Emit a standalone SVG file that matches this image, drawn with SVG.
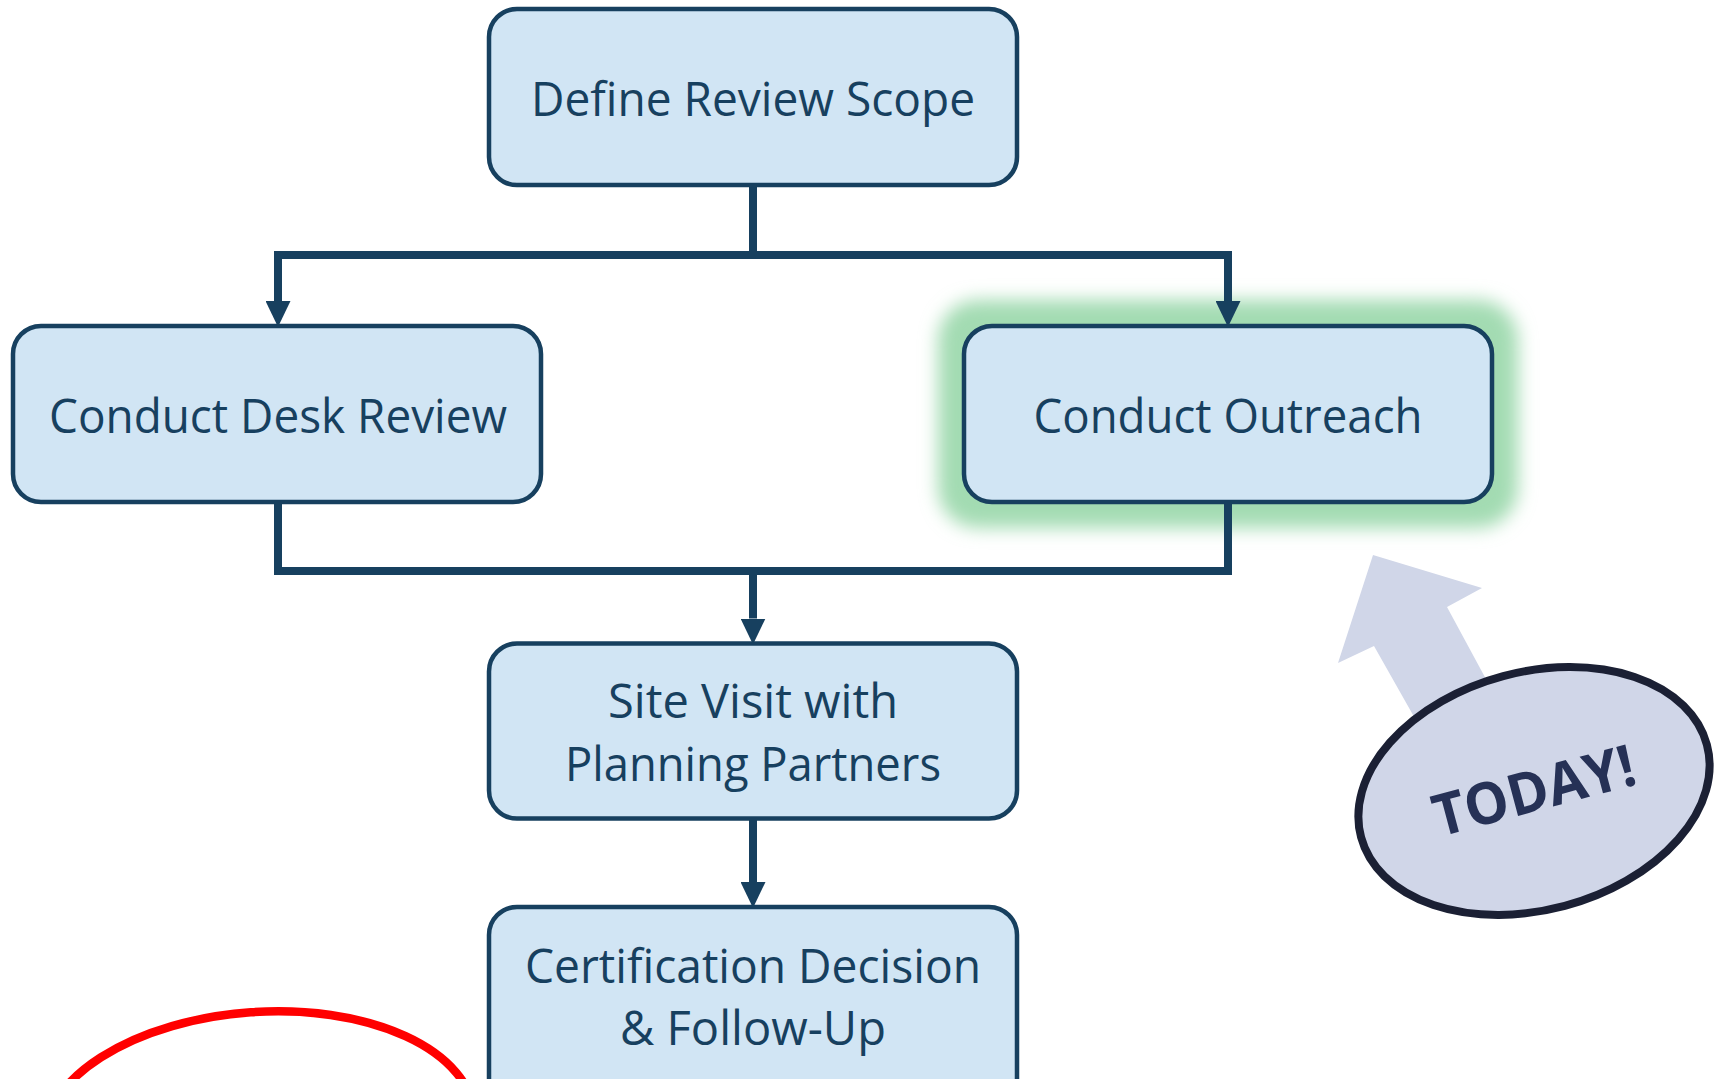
<svg xmlns="http://www.w3.org/2000/svg" width="1722" height="1079" viewBox="0 0 1722 1079">
<style>
.box{fill:#D1E5F4;stroke:#17405F;stroke-width:4.5}
.lbl{font-family:"Open Sans","Noto Sans",sans-serif;font-size:48px;fill:#17405F;text-anchor:middle}
.con{fill:none;stroke:#17405F;stroke-width:8;stroke-linejoin:miter}
</style>
<defs>
<marker id="arr" viewBox="0 0 26 25" refX="0" refY="12.5" markerWidth="26" markerHeight="25" markerUnits="userSpaceOnUse" orient="auto">
<path d="M0,0 L26,12.5 L0,25 Z" fill="#17405F"/>
</marker>
<filter id="glow" x="-20%" y="-30%" width="140%" height="160%">
<feGaussianBlur stdDeviation="9"/>
</filter>
</defs>
<rect width="1722" height="1079" fill="#FFFFFF"/>

<g id="outreach-glow">
<rect x="938" y="300" width="580" height="228" rx="40" fill="#A3DBB2" filter="url(#glow)"/>
</g>

<g id="connectors">
<path class="con" d="M753,185 V255"/>
<path class="con" d="M753,255 H278 V301" marker-end="url(#arr)"/>
<path class="con" d="M753,255 H1228 V301" marker-end="url(#arr)"/>
<path class="con" d="M278,502 V571 H1228 V502"/>
<path class="con" d="M753,571 V618.5" marker-end="url(#arr)"/>
<path class="con" d="M753,818 V882" marker-end="url(#arr)"/>
</g>

<g id="define">
<rect class="box" x="489" y="9" width="528" height="176" rx="28"/>
<text class="lbl" x="753" y="116" textLength="444" lengthAdjust="spacingAndGlyphs">Define Review Scope</text>
</g>

<g id="desk">
<rect class="box" x="13" y="326" width="528" height="176" rx="28"/>
<text class="lbl" x="278" y="433" textLength="458" lengthAdjust="spacingAndGlyphs">Conduct Desk Review</text>
</g>

<g id="outreach">
<rect class="box" x="964" y="326" width="528" height="176" rx="28"/>
<text class="lbl" x="1228" y="433" textLength="389" lengthAdjust="spacingAndGlyphs">Conduct Outreach</text>
</g>

<g id="site">
<rect class="box" x="489" y="643.5" width="528" height="175" rx="28"/>
<text class="lbl" x="753" y="718" textLength="290" lengthAdjust="spacingAndGlyphs">Site Visit with</text>
<text class="lbl" x="753" y="781" textLength="376" lengthAdjust="spacingAndGlyphs">Planning Partners</text>
</g>

<g id="certification">
<rect class="box" x="489" y="907" width="528" height="220" rx="28"/>
<text class="lbl" x="753" y="983" textLength="456" lengthAdjust="spacingAndGlyphs">Certification Decision</text>
<text class="lbl" x="753" y="1045" textLength="266" lengthAdjust="spacingAndGlyphs">&amp; Follow-Up</text>
</g>

<g id="today-arrow">
<polygon points="1373,555 1482,588 1447,607 1500,705 1430,745 1374,646 1338,663" fill="#D0D6E8"/>
</g>

<g id="today">
<g transform="translate(1534,791) rotate(-15)">
<ellipse cx="0" cy="0" rx="179" ry="119" fill="#D0D6E8" stroke="#1B2034" stroke-width="8"/>
<text x="0" y="20" font-family="'Open Sans','Noto Sans',sans-serif" font-size="58" font-weight="bold" fill="#263156" text-anchor="middle" textLength="207" lengthAdjust="spacingAndGlyphs">TODAY!</text>
</g>
</g>

<g id="red-ellipse">
<ellipse cx="259" cy="1130" rx="216" ry="118" transform="rotate(-4 259 1130)" fill="#FFFFFF" stroke="#FF0000" stroke-width="8.5"/>
</g>
</svg>
